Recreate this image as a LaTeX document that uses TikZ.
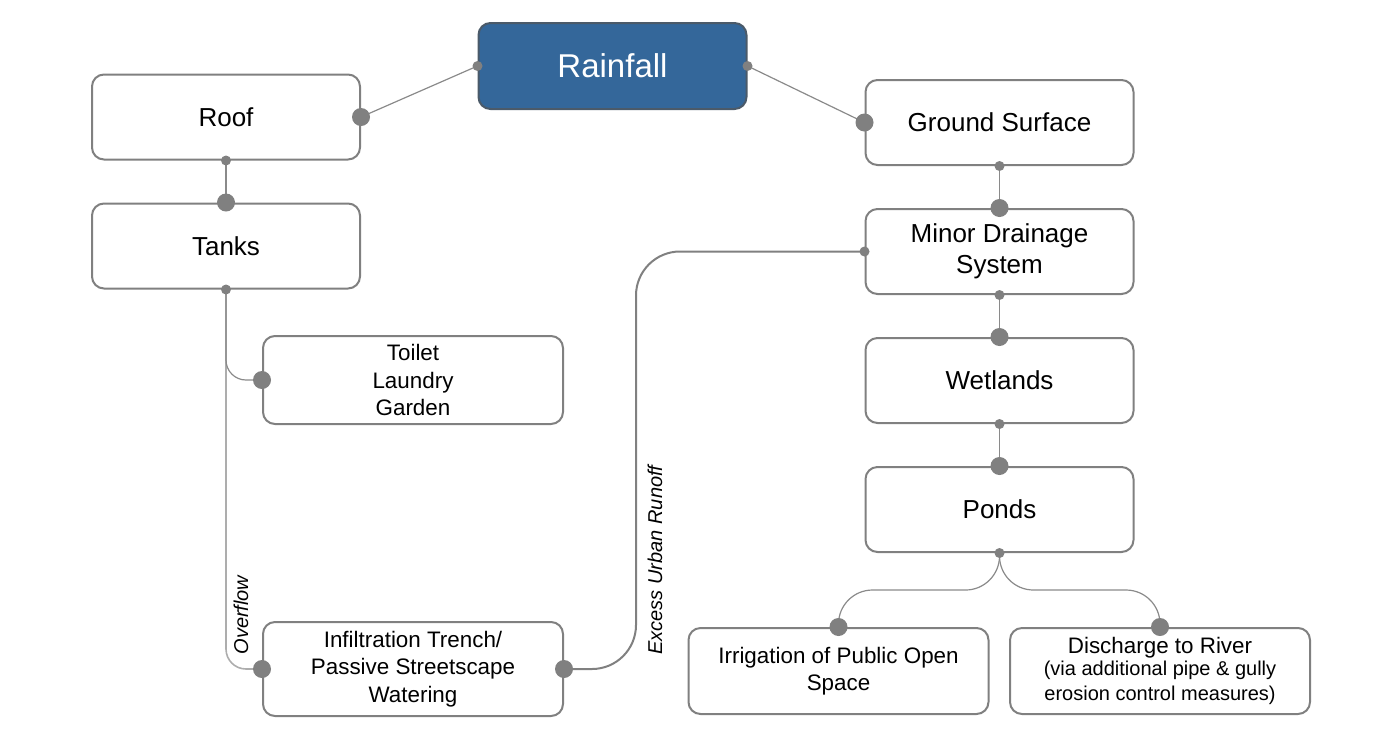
\documentclass[tikz,border=0pt]{standalone}
\usepackage{fontspec}
\setmainfont{Liberation Sans}
\usetikzlibrary{positioning,calc}
\definecolor{rainblue}{HTML}{34679A}
\definecolor{rainedge}{HTML}{4B5A69}
\definecolor{edgegray}{HTML}{808080}
\definecolor{linkgray}{HTML}{8A8A8A}
\definecolor{overgray}{HTML}{ADADAD}
\tikzset{%
  % Specifications for style of boxes:
       base/.style = {rectangle, rounded corners=6pt, draw=edgegray,
                      line width=1pt, fill=white, text=black, align=center,
                      minimum width=134pt, minimum height=42.5pt,
                      font=\fontsize{13}{15.5}\selectfont},
    rainbox/.style = {base, fill=rainblue, draw=rainedge, text=white,
                      minimum height=43pt, font=\fontsize{16.5}{20}\selectfont},
     usebox/.style = {base, minimum width=150pt, minimum height=44pt,
                      font=\fontsize{11.2}{13.6}\selectfont},
  % Specifications for style of connectors:
       link/.style = {draw=linkgray, line width=0.6pt},
   overlink/.style = {draw=overgray, line width=0.8pt, rounded corners=10pt},
     runoff/.style = {draw=edgegray, line width=1pt, rounded corners=22pt},
     branch/.style = {link, rounded corners=17pt},
   flowtext/.style = {font=\fontsize{10}{12}\selectfont\itshape, rotate=90, inner sep=0pt},
}

\begin{document}
\begin{tikzpicture}[x=0.5pt, y=-0.5pt, node distance=21pt]
    \useasboundingbox (0,0) rectangle (1395,740);

    \node (rain) [rainbox] at (612.5,66) {Rainfall};

    % roof side
    \node (roof) [base] at (226,117) {Roof};
    \node (tanks) [base, below = of roof] {Tanks};
    \node (toilet) [usebox] at (413,380) {Toilet\\Laundry\\Garden};
    \node (infil) [usebox, minimum height=47pt] at (413,669) {Infiltration Trench/\\Passive Streetscape\\Watering};

    % ground side
    \node (ground) [base] at (999.5,122.5) {Ground Surface};
    \node (minor) [base, below = of ground] {Minor Drainage\\System};
    \node (wet) [base, below = of minor] {Wetlands};
    \node (ponds) [base, below = of wet] {Ponds};
    \node (irr) [usebox, minimum height=43pt] at (838.5,671) {Irrigation of Public Open\\Space};
    \node (dis) [usebox, minimum height=43pt] at (1160,671) {Discharge to River\\[-2.5pt]
        {\fontsize{10}{12}\selectfont (via additional pipe \& gully}\\[-1pt]
        {\fontsize{10}{12}\selectfont erosion control measures)}};

    \draw [link] (rain.west) -- (roof.east);
    \draw [link] (rain.east) -- (ground.west);
    \draw [link] (roof.south) -- (tanks.north);
    \draw [overlink] (tanks.south) |- (infil.west);
    \draw [link, rounded corners=10pt] (tanks.south) |- (toilet.west);
    \draw [runoff] (minor.west) -| ([xshift=36pt]infil.east) -- (infil.east);
    \draw [link] (ground.south) -- (minor.north);
    \draw [link] (minor.south) -- (wet.north);
    \draw [link] (wet.south) -- (ponds.north);
    \draw [branch] (ponds.south) |- ($(ponds.south)!.5!(irr.north)$) -| (irr.north);
    \draw [branch] (ponds.south) |- ($(ponds.south)!.5!(dis.north)$) -| (dis.north);

    \node (overflow) [flowtext] at (241,615) {Overflow};
    \node (excess) [flowtext] at (655,560) {Excess Urban Runoff};

    % end dots
    \foreach \p in {rain.west, rain.east, roof.south, tanks.south, minor.west,
                    ground.south, minor.south, wet.south, ponds.south}
        \fill [edgegray] (\p) circle (2.5pt);
    \foreach \p in {roof.east, ground.west, tanks.north, toilet.west, infil.west,
                    infil.east, minor.north, wet.north, ponds.north, irr.north, dis.north}
        \fill [edgegray] (\p) circle (4.5pt);
\end{tikzpicture}
\end{document}
